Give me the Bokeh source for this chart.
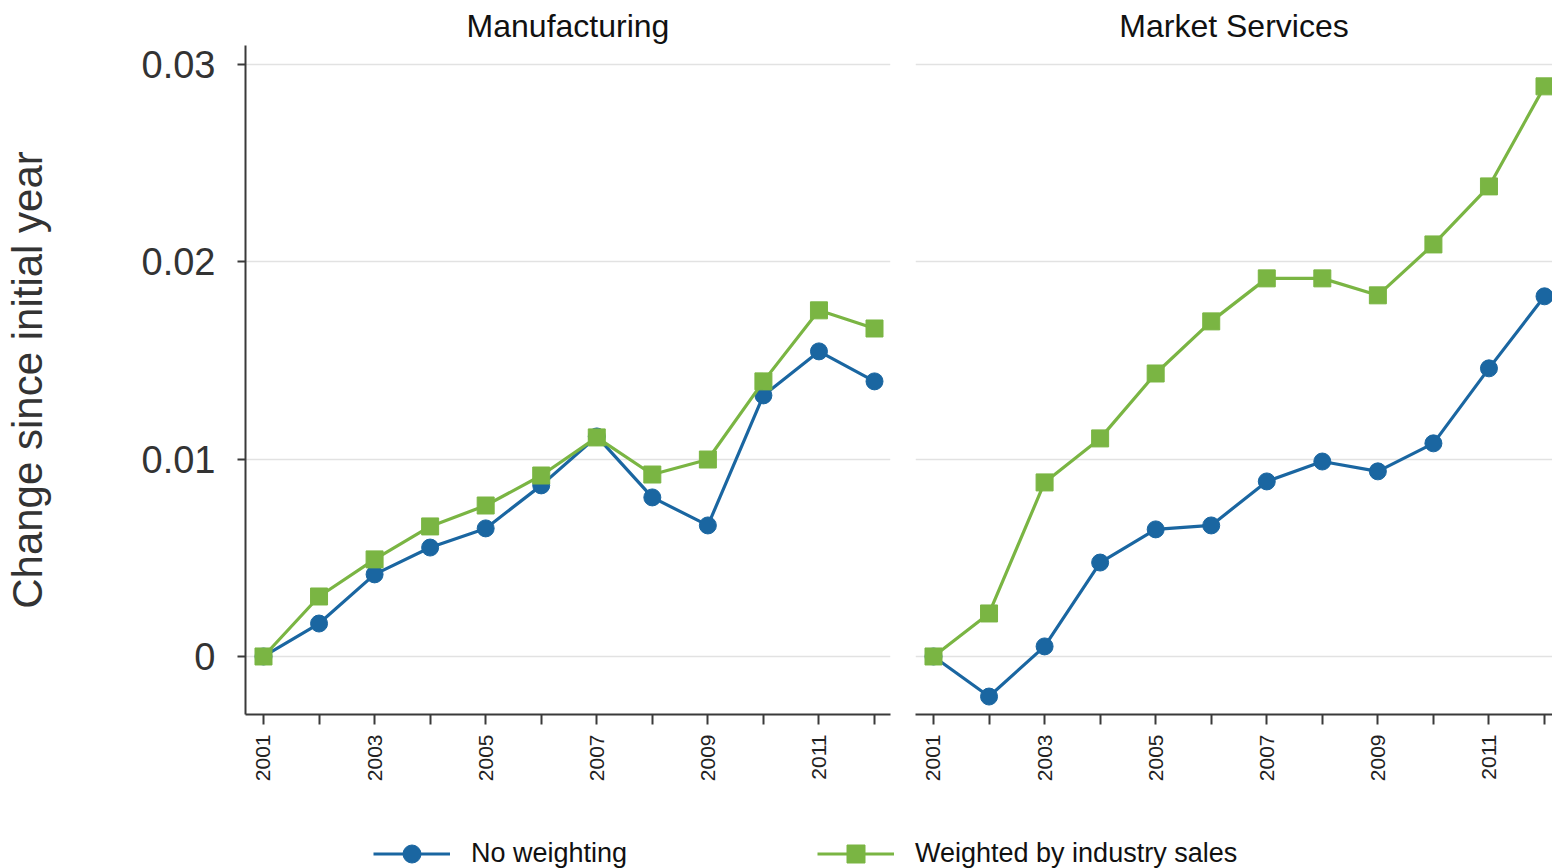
import math
from bokeh.plotting import figure
from bokeh.layouts import column, row
from bokeh.models import Range1d, FixedTicker, Legend, LegendItem
from bokeh.embed import file_html
from bokeh.resources import INLINE

years = [2001, 2002, 2003, 2004, 2005, 2006, 2007, 2008, 2009, 2010, 2011, 2012]
mfg_none = [0.0, 0.00167, 0.00416, 0.00552, 0.00649, 0.00867, 0.01115, 0.00806, 0.00664, 0.01323, 0.01546, 0.01394]
mfg_weighted = [0.0, 0.00304, 0.00492, 0.00659, 0.00765, 0.00917, 0.0111, 0.00922, 0.00998, 0.01394, 0.01754, 0.01662]
svc_none = [0.0, -0.00203, 0.00051, 0.00476, 0.00644, 0.00664, 0.00887, 0.00988, 0.00938, 0.0108, 0.0146, 0.01825]
svc_weighted = [0.0, 0.00218, 0.00882, 0.01105, 0.01434, 0.01698, 0.01916, 0.01916, 0.0183, 0.02088, 0.02382, 0.02889]
y_ticks = [0.0, 0.01, 0.02, 0.03]
y_tick_labels = ["0", "0.01", "0.02", "0.03"]
panel_titles = ["Manufacturing", "Market Services"]
series_labels = ["No weighting", "Weighted by industry sales"]
y_label = "Change since initial year"

BLUE = "#1a66a1"
GREEN = "#7ab543"
AX = "#3a3a3a"
FONT = "Liberation Sans"


def make_panel(title, none_vals, w_vals, width, x_end, left_border, right_border, show_y):
    p = figure(width=width, height=820, output_backend="svg", toolbar_location=None,
               x_range=Range1d(2000.676, x_end), y_range=Range1d(-0.00294, 0.03096),
               min_border_left=left_border, min_border_right=right_border,
               min_border_top=45, min_border_bottom=106)
    p.outline_line_color = None
    p.background_fill_color = "white"
    p.border_fill_color = "white"
    p.title.text = title
    p.title.align = "center"
    p.title.text_font = FONT
    p.title.text_font_size = "32px"
    p.title.text_font_style = "normal"
    p.title.text_color = "#111111"
    p.title.standoff = 4

    p.xgrid.visible = False
    p.ygrid.ticker = FixedTicker(ticks=y_ticks)
    p.ygrid.grid_line_color = "#e2e2e2"
    p.ygrid.grid_line_width = 1.5

    xa = p.xaxis[0]
    xa.ticker = FixedTicker(ticks=years)
    xa.major_label_overrides = {y: (str(y) if y % 2 == 1 else "") for y in years}
    xa.major_label_orientation = math.pi / 2
    xa.major_label_text_font = FONT
    xa.major_label_text_font_size = "21px"
    xa.major_label_text_color = "#222222"
    xa.major_label_standoff = 10
    xa.major_tick_out = 10
    xa.major_tick_in = 0
    xa.minor_tick_line_color = None
    xa.axis_line_color = AX
    xa.axis_line_width = 2
    xa.major_tick_line_color = AX
    xa.major_tick_line_width = 2

    ya = p.yaxis[0]
    ya.ticker = FixedTicker(ticks=y_ticks)
    ya.major_label_overrides = {t: l for t, l in zip(y_ticks, y_tick_labels)}
    ya.major_label_text_font = FONT
    ya.major_label_text_font_size = "38px"
    ya.major_label_text_color = "#333333"
    ya.major_label_standoff = 22
    ya.major_tick_out = 8
    ya.major_tick_in = 0
    ya.minor_tick_line_color = None
    ya.axis_line_color = AX
    ya.axis_line_width = 2
    ya.major_tick_line_color = AX
    ya.major_tick_line_width = 2
    if show_y:
        ya.axis_label = y_label
        ya.axis_label_text_font = FONT
        ya.axis_label_text_font_size = "42px"
        ya.axis_label_text_font_style = "normal"
        ya.axis_label_text_color = "#333333"
        ya.axis_label_standoff = 88
    else:
        ya.visible = False

    p.line(years, none_vals, line_color=BLUE, line_width=3.2)
    p.scatter(years, none_vals, marker="circle", size=17, fill_color=BLUE, line_color=BLUE)
    p.line(years, w_vals, line_color=GREEN, line_width=3.2)
    p.scatter(years, w_vals, marker="square", size=17, fill_color=GREEN, line_color=GREEN)
    return p


p1 = make_panel(panel_titles[0], mfg_none, mfg_weighted, 903, 2012.288, 245, 13, True)
p2 = make_panel(panel_titles[1], svc_none, svc_weighted, 649, 2012.144, 12, 0, False)

# legend strip (series drawn outside its visible range; only legend glyphs show)
pl = figure(width=1552, height=48, output_backend="svg", toolbar_location=None,
            x_range=Range1d(0, 1), y_range=Range1d(0, 1),
            min_border_left=0, min_border_right=0, min_border_top=0, min_border_bottom=0)
pl.axis.visible = False
pl.grid.visible = False
pl.outline_line_color = None
l1 = pl.line(years, mfg_none, line_color=BLUE, line_width=3.2)
s1 = pl.scatter(years, mfg_none, marker="circle", size=17, fill_color=BLUE, line_color=BLUE)
l2 = pl.line(years, mfg_weighted, line_color=GREEN, line_width=3.2)
s2 = pl.scatter(years, mfg_weighted, marker="square", size=17, fill_color=GREEN, line_color=GREEN)

for (lbl, rs, xloc) in [(series_labels[0], [l1, s1], 373), (series_labels[1], [l2, s2], 817)]:
    lg = Legend(items=[LegendItem(label=lbl, renderers=rs)], location=(xloc, -8),
                padding=0, margin=0, glyph_width=77, glyph_height=45, label_standoff=21,
                label_text_font=FONT, label_text_font_size="27px", label_text_color="#111111",
                border_line_color=None, background_fill_alpha=0)
    pl.add_layout(lg, "center")

layout = column(row(p1, p2, spacing=0), pl, spacing=0)

open("out.html", "w").write(file_html(layout, INLINE))
